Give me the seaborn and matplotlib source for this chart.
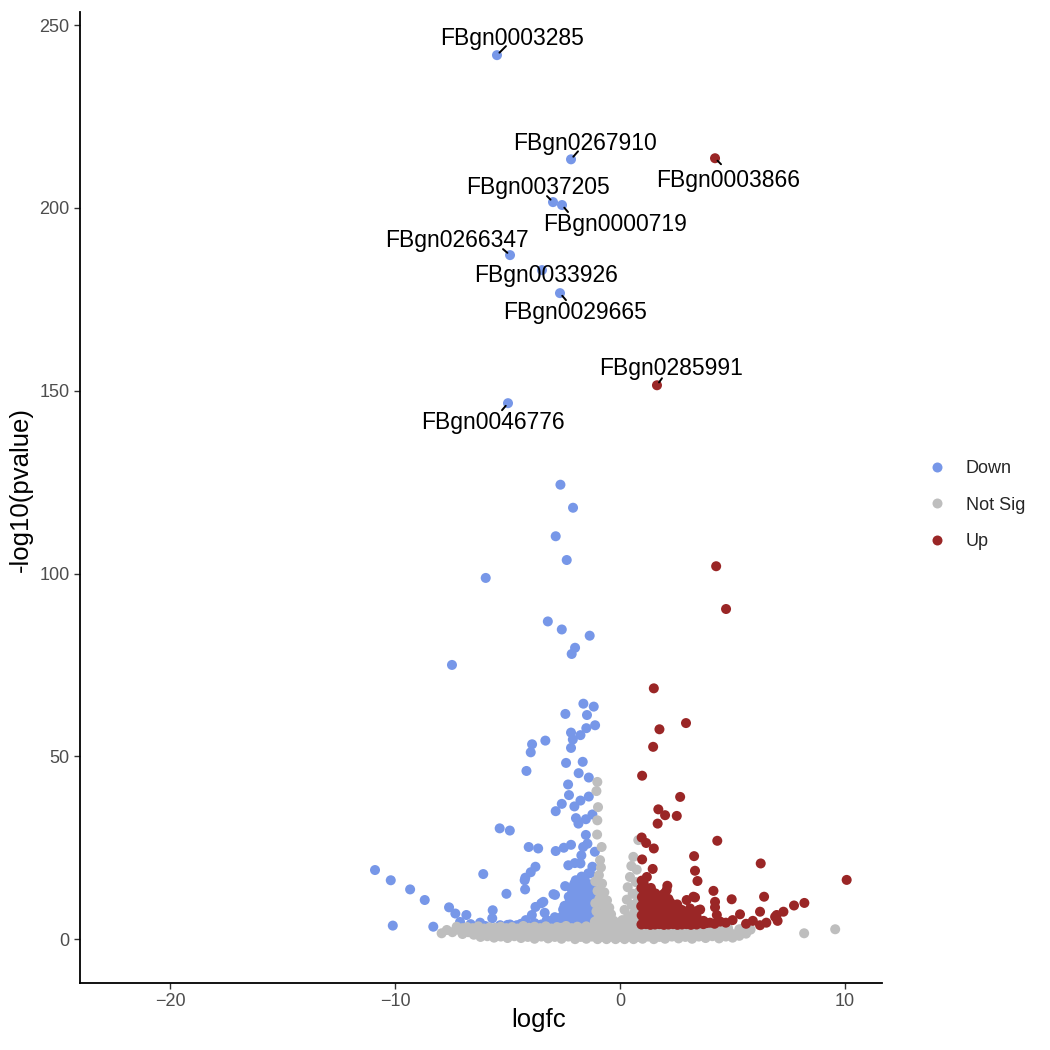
import pandas as pd
import seaborn as sns
import matplotlib.pyplot as plt
from matplotlib.lines import Line2D

# (logfc, -log10 pvalue), one list per group
down_pts = [
    (-2.65, 124.3), (-2.09, 118.0), (-2.86, 110.2), (-2.37, 103.7), (-5.97, 98.8),
    (-3.21, 86.9), (-2.59, 84.7), (-1.35, 83.0), (-2.00, 79.7), (-2.15, 78.0), (-7.47, 75.0),
    (-1.63, 64.4), (-1.17, 63.6), (-2.43, 61.6), (-1.47, 61.3), (-1.11, 58.5), (-1.50, 57.7),
    (-2.18, 56.5), (-1.76, 55.8), (-2.10, 54.6), (-3.32, 54.3), (-3.91, 53.3), (-3.97, 51.1),
    (-2.18, 52.3), (-2.40, 48.2), (-1.66, 48.5), (-4.16, 46.0), (-1.84, 45.4), (-1.39, 44.2),
    (-2.31, 42.3), (-2.27, 39.4), (-1.39, 39.0), (-2.59, 37.0), (-1.76, 37.9), (-2.03, 36.3),
    (-2.86, 35.0), (-1.23, 34.1), (-1.96, 33.1), (-1.52, 32.8), (-1.85, 31.6), (-5.35, 30.3),
    (-4.90, 29.7), (-1.52, 28.5), (-4.06, 25.2), (-3.64, 24.8), (-2.86, 24.1), (-2.50, 25.0),
    (-2.18, 25.8), (-1.64, 25.2), (-1.45, 26.1), (-1.12, 23.9), (-1.72, 22.9), (-1.76, 20.7),
    (-2.30, 20.2), (-2.01, 20.8), (-3.76, 19.8), (-3.97, 18.3), (-4.21, 16.8), (-1.23, 19.8),
    (-1.41, 18.0), (-6.08, 17.8), (-10.89, 18.9), (-10.19, 16.1), (-9.33, 13.6), (-8.68, 10.7),
    (-5.05, 12.4), (-4.22, 13.6), (-2.89, 12.1), (-2.44, 14.5), (-2.03, 15.2), (-7.60, 8.7),
    (-7.32, 7.0), (-6.83, 6.6), (-7.11, 4.7), (-5.66, 7.9), (-5.68, 5.7), (-3.76, 8.8),
    (-3.50, 9.8), (-3.35, 7.2), (-3.92, 6.6), (-4.19, 5.2), (-2.53, 8.1), (-10.10, 3.7),
    (-8.30, 3.4), (-6.64, 4.1), (-6.22, 4.5), (-5.33, 3.8), (-4.59, 3.8), (-3.19, 4.6),
    (-4.89, 4.0), (-2.96, 12.3), (-4.24, 16.1), (-3.41, 10.2), (-3.26, 5.2), (-1.33, 18.0),
    (-6.00, 3.6), (-5.00, 3.9), (-4.40, 4.2), (-3.80, 4.4), (-3.50, 4.0), (-3.00, 4.8),
    (-2.90, 6.0), (-2.75, 5.5),
    (-2.62, 4.1), (-2.58, 6.2), (-2.46, 3.9), (-2.44, 6.6), (-2.47, 9.1),
    (-2.31, 4.2), (-2.29, 6.4), (-2.33, 9.4), (-2.28, 11.6),
    (-2.16, 3.9), (-2.14, 6.7), (-2.17, 8.9), (-2.12, 11.4), (-2.15, 13.6),
    (-2.01, 4.1), (-1.99, 6.1), (-2.02, 8.6), (-1.98, 11.1), (-2.00, 13.2), (-1.97, 16.1),
    (-1.86, 3.8), (-1.84, 6.0), (-1.87, 8.4), (-1.83, 10.6), (-1.85, 12.9), (-1.82, 15.0),
    (-1.71, 3.9), (-1.69, 6.1), (-1.72, 8.1), (-1.68, 10.4), (-1.70, 12.6), (-1.67, 14.6), (-1.71, 17.1),
    (-1.56, 3.8), (-1.54, 5.6), (-1.57, 7.6), (-1.53, 9.6), (-1.55, 11.5), (-1.52, 13.6), (-1.56, 16.0),
    (-1.41, 3.9), (-1.39, 5.5), (-1.42, 7.4), (-1.38, 9.5), (-1.40, 11.6), (-1.37, 14.1),
    (-1.26, 3.8), (-1.24, 5.6), (-1.27, 7.5), (-1.23, 9.4), (-1.25, 12.1), (-1.22, 15.1),
    (-1.11, 3.9), (-1.09, 5.4), (-1.12, 7.6), (-1.08, 10.1), (-1.10, 13.0),
    (-2.52, 5.0), (-2.38, 5.2), (-2.38, 7.8), (-2.22, 5.3), (-2.22, 7.8), (-2.23, 10.3),
    (-2.07, 5.1), (-2.08, 7.4), (-2.06, 9.8), (-2.07, 12.2), (-2.06, 14.6),
    (-1.92, 5.0), (-1.93, 7.2), (-1.91, 9.6), (-1.92, 11.9), (-1.90, 14.1),
    (-1.78, 4.9), (-1.77, 7.1), (-1.79, 9.4), (-1.76, 11.6), (-1.78, 13.8), (-1.76, 15.9),
    (-1.63, 4.8), (-1.62, 6.9), (-1.64, 9.0), (-1.61, 11.1), (-1.63, 13.3), (-1.62, 15.2),
    (-1.48, 4.7), (-1.47, 6.6), (-1.49, 8.6), (-1.46, 10.6), (-1.48, 12.6), (-1.47, 15.0),
    (-1.33, 4.6), (-1.32, 6.5), (-1.34, 8.4), (-1.31, 10.7), (-1.33, 13.0),
    (-1.18, 4.7), (-1.17, 6.6), (-1.19, 8.5), (-1.16, 11.2), (-1.05, 6.5), (-1.04, 8.8),
]

notsig_pts = [
    # spike left of zero
    (-1.01, 43.0), (-1.05, 40.5), (-0.98, 36.1), (-1.01, 32.5), (-1.02, 28.6), (-0.82, 25.2),
    (-0.89, 21.6), (-0.94, 17.5), (-0.85, 19.6), (-1.10, 15.8), (-0.80, 15.2), (-1.00, 13.2),
    (-0.70, 12.8), (-0.92, 11.0), (-0.58, 10.6), (-1.10, 9.8), (-0.78, 9.4), (-0.48, 8.6),
    (-1.05, 7.6), (-0.68, 7.4), (-0.40, 6.8), (-0.95, 6.0), (-0.58, 5.8), (-0.28, 5.0),
    (-1.12, 4.8), (-0.82, 4.6), (-0.48, 4.2), (-0.16, 4.1),
    # spike right of zero
    (0.81, 27.1), (0.59, 22.5), (0.50, 20.0), (0.74, 19.0), (0.44, 17.0), (0.70, 15.6),
    (0.34, 14.2), (0.84, 13.0), (0.56, 12.4), (0.30, 10.8), (0.80, 10.6), (0.52, 9.4),
    (0.20, 8.0), (0.88, 8.2), (0.62, 7.2), (0.36, 6.2), (0.10, 5.2), (0.80, 5.6),
    (0.50, 4.6), (0.02, 4.0), (0.26, 4.2), (0.70, 3.9),
    # low band
    (-6.2, 0.6), (-5.6, 0.4), (-5.0, 0.3), (-4.4, 0.3), (-3.8, 0.1), (-3.2, 0.2), (-2.6, 0.1),
    (-2.0, 0.0), (-1.5, 0.1), (-1.0, 0.0), (-0.6, 0.0), (-0.2, 0.0), (0.2, 0.0), (0.6, 0.0),
    (1.0, 0.1), (1.5, 0.0), (2.0, 0.1), (2.6, 0.2), (3.2, 0.1), (3.8, 0.3), (4.4, 0.2), (5.0, 0.4),
    (-5.9, 0.8), (-5.3, 0.7), (-4.7, 0.8), (-4.1, 0.6), (-3.5, 0.7), (-2.9, 0.6), (-2.3, 0.7),
    (-1.75, 0.6), (-1.25, 0.7), (-0.8, 0.6), (-0.4, 0.7), (0.0, 0.6), (0.4, 0.7), (0.8, 0.6),
    (1.25, 0.7), (1.75, 0.6), (2.3, 0.7), (2.9, 0.6), (3.5, 0.7), (4.1, 0.8), (4.7, 0.7), (5.3, 0.9),
    (-7.93, 1.6), (-7.0, 1.4), (-6.5, 1.2), (-6.0, 1.3), (-5.5, 1.1), (-5.0, 1.4), (-4.5, 1.2),
    (-4.0, 1.3), (-3.5, 1.1), (-3.0, 1.4), (-2.5, 1.2), (-2.0, 1.3), (-1.6, 1.1), (-1.2, 1.4),
    (-0.8, 1.2), (-0.4, 1.3), (0.0, 1.1), (0.4, 1.4), (0.8, 1.2), (1.2, 1.3), (1.6, 1.1),
    (2.1, 1.4), (2.6, 1.2), (3.1, 1.3), (3.6, 1.1), (4.1, 1.4), (4.6, 1.2), (5.1, 1.3), (5.6, 1.5),
    (-7.45, 1.9), (-6.75, 1.9), (-6.25, 2.0), (-5.75, 1.8), (-5.25, 1.9), (-4.75, 2.0), (-4.25, 1.8),
    (-3.75, 1.9), (-3.25, 2.0), (-2.75, 1.8), (-2.25, 1.9), (-1.8, 2.0), (-1.4, 1.8), (-1.0, 1.9),
    (-0.6, 2.0), (-0.2, 1.8), (0.2, 1.9), (0.6, 2.0), (1.0, 1.8), (1.4, 1.9), (1.85, 2.0),
    (2.35, 1.8), (2.85, 1.9), (3.35, 2.0), (3.85, 1.8), (4.35, 1.9), (4.85, 2.0), (5.35, 1.9),
    (-7.70, 2.5), (-7.2, 2.6), (-6.7, 2.4), (-6.2, 2.5), (-5.7, 2.7), (-5.2, 2.4), (-4.7, 2.6),
    (-4.2, 2.5), (-3.7, 2.7), (-3.2, 2.4), (-2.7, 2.6), (-2.2, 2.5), (-1.8, 2.7), (-1.4, 2.4),
    (-1.0, 2.6), (-0.6, 2.5), (-0.2, 2.7), (0.2, 2.4), (0.6, 2.6), (1.0, 2.5), (1.4, 2.7),
    (1.8, 2.4), (2.3, 2.6), (2.8, 2.5), (3.3, 2.7), (3.8, 2.4), (4.3, 2.6), (4.8, 2.5),
    (5.3, 2.7), (5.8, 2.6),
    (-7.0, 3.0), (-6.55, 3.0), (-6.05, 2.9), (-5.55, 3.1), (-5.05, 3.0), (-4.55, 2.9), (-4.05, 3.1),
    (-3.55, 3.0), (-3.05, 2.9), (-2.6, 3.1), (-2.15, 3.0), (-1.7, 2.9), (-1.3, 3.1), (-0.9, 3.0),
    (-0.5, 2.9), (-0.1, 3.1), (0.3, 3.0), (0.7, 2.9), (1.1, 3.1), (1.55, 3.0), (2.05, 2.9),
    (2.55, 3.1), (3.05, 3.0), (3.6, 2.9), (4.2, 3.1), (4.8, 3.0), (5.5, 3.1),
    (-7.26, 3.4), (-6.8, 3.3), (-6.3, 3.5), (-5.8, 3.2), (-5.3, 3.4), (-4.8, 3.3), (-4.3, 3.6),
    (-3.8, 3.4), (-3.3, 3.5), (-2.8, 3.3), (-2.4, 3.6), (-1.9, 3.4), (-1.5, 3.5), (-1.1, 3.3),
    (-0.7, 3.6), (-0.3, 3.4), (0.1, 3.5), (0.5, 3.3), (0.9, 3.6), (1.3, 3.4), (1.8, 3.5),
    (2.3, 3.3), (2.8, 3.6), (3.3, 3.4), (3.9, 3.5), (4.5, 3.3),
    (-0.35, 4.5), (0.15, 4.6), (-0.05, 3.9),
    (8.18, 1.6), (9.56, 2.7),
]

up_pts = [
    (4.27, 102.0), (4.71, 90.3), (1.50, 68.6), (2.93, 59.1), (1.75, 57.4), (1.47, 52.6),
    (0.98, 44.7), (2.67, 38.9), (1.70, 35.5), (2.00, 33.9), (2.52, 33.7), (1.67, 31.6),
    (0.96, 27.8), (1.16, 26.3), (4.32, 26.9), (1.50, 24.8), (3.29, 22.7), (0.98, 21.8),
    (6.25, 20.7), (3.33, 18.7), (1.45, 19.2), (1.19, 17.0), (3.44, 15.9), (10.07, 16.2),
    (2.10, 14.6), (4.15, 13.2), (4.96, 10.9), (6.40, 11.6), (4.22, 10.2), (3.33, 11.4),
    (3.56, 8.1), (5.33, 6.8), (6.22, 7.5), (4.22, 8.7), (4.30, 6.6), (6.89, 6.1),
    (7.26, 7.5), (7.73, 9.2), (8.19, 9.9), (6.96, 6.6), (6.22, 3.8), (3.26, 11.6),
    (3.48, 7.9), (4.70, 4.5), (5.60, 4.2), (6.50, 4.5), (7.00, 5.0), (2.07, 13.4),
    (2.96, 10.7), (3.11, 8.4), (2.36, 8.8), (5.00, 5.2), (5.90, 5.0),
    (0.95, 4.0), (0.96, 6.5), (0.94, 9.0), (0.97, 11.5), (0.95, 14.0), (0.96, 16.0),
    (1.15, 4.1), (1.14, 6.0), (1.16, 8.5), (1.15, 11.0), (1.13, 13.0),
    (1.35, 3.9), (1.36, 6.5), (1.34, 9.0), (1.35, 11.5), (1.37, 14.0),
    (1.55, 4.0), (1.56, 6.0), (1.54, 8.5), (1.55, 10.5), (1.57, 12.5),
    (1.75, 4.1), (1.74, 6.5), (1.76, 9.0), (1.75, 11.0),
    (1.95, 3.9), (1.96, 6.0), (1.94, 8.5), (1.95, 10.5), (1.97, 12.5),
    (2.15, 4.0), (2.16, 6.5), (2.14, 9.0), (2.15, 11.0),
    (2.35, 4.1), (2.36, 6.0), (2.34, 8.5),
    (2.55, 3.9), (2.56, 6.5), (2.54, 9.5),
    (2.75, 4.0), (2.76, 6.0), (2.74, 8.0),
    (2.95, 4.1), (2.96, 6.5),
    (3.15, 3.9), (3.16, 5.5), (3.14, 7.5),
    (3.40, 4.0), (3.41, 6.0), (3.70, 4.1), (3.71, 5.0), (4.00, 4.5),
    (1.05, 5.2), (1.05, 7.7), (1.04, 10.2), (1.06, 12.8), (1.05, 15.2),
    (1.25, 5.0), (1.25, 7.3), (1.26, 9.8), (1.24, 12.2), (1.45, 5.1), (1.45, 7.7),
    (1.46, 10.2), (1.44, 12.8), (1.65, 5.0), (1.66, 7.3), (1.64, 9.7), (1.65, 11.9),
    (1.85, 5.2), (1.86, 7.7), (1.84, 9.8), (1.86, 12.0), (2.05, 5.0), (2.06, 7.3),
    (2.04, 9.8), (2.25, 5.2), (2.26, 7.7), (2.24, 10.0), (2.45, 5.1), (2.46, 7.4),
    (2.65, 5.0), (2.66, 7.2), (2.85, 5.2), (2.86, 7.3), (3.05, 5.0), (3.30, 5.0),
    (3.55, 4.6), (3.85, 4.4), (4.20, 4.2), (4.45, 4.8),
]

# labelled genes
lab_genes = ["FBgn0003285", "FBgn0267910", "FBgn0003866", "FBgn0037205", "FBgn0000719",
             "FBgn0266347", "FBgn0033926", "FBgn0029665", "FBgn0285991", "FBgn0046776"]
lab_fc = [-5.47, -2.18, 4.22, -2.98, -2.58, -4.89, -3.47, -2.67, 1.64, -4.98]
lab_p = [241.8, 213.3, 213.6, 201.6, 200.8, 187.1, 183.0, 176.7, 151.5, 146.6]
lab_sig = ["Down", "Down", "Up", "Down", "Down", "Down", "Down", "Down", "Up", "Down"]

# label offsets in pixels (right, up) from the point, and leader segment end
lab_dx = [15, 14, 13, -15, 53, -53, 4, 15, 14, -15]
lab_dy = [17, 16, -22, 15, -19, 15, -5, -19, 17, -19]
seg_dx = [9, 7, 6, -6, 6, -7, 0, 6, 5, -6]
seg_dy = [9, 8, -6, 6, -7, 6, 0, -7, 7, -7]

groups = ["Down", "Not Sig", "Up"]
colors = ["#7797E8", "#BEBEBE", "#9A2626"]


def to_frame(pts, sig):
    return pd.DataFrame({"logfc": [p[0] for p in pts],
                         "pval": [p[1] for p in pts],
                         "sig": sig})


df = pd.concat([
    to_frame(down_pts, "Down"),
    to_frame(notsig_pts, "Not Sig"),
    to_frame(up_pts, "Up"),
    pd.DataFrame({"logfc": lab_fc, "pval": lab_p, "sig": lab_sig}),
], ignore_index=True)

sns.set_style("ticks")
plt.rcParams["font.family"] = ["Liberation Sans", "DejaVu Sans"]

fig = plt.figure(figsize=(10.5, 10.5), dpi=100)
ax = fig.add_axes([80 / 1050, 1 - 983 / 1050, 802 / 1050, 971 / 1050])

sns.scatterplot(data=df, x="logfc", y="pval", hue="sig", hue_order=groups,
                palette=colors, s=52, linewidth=0, alpha=1, legend=False, ax=ax)

for g, fc, p, dx, dy, sx, sy in zip(lab_genes, lab_fc, lab_p, lab_dx, lab_dy, seg_dx, seg_dy):
    if sx or sy:
        ax.annotate("", xy=(fc, p), xytext=(sx * 0.72, sy * 0.72),
                    textcoords="offset points",
                    arrowprops=dict(arrowstyle="-", color="black", lw=1.4,
                                    shrinkA=0, shrinkB=2.5), zorder=4)
    ax.annotate(g, xy=(fc, p), xytext=(dx * 0.72, dy * 0.72),
                textcoords="offset points", ha="center", va="center",
                fontsize=16.5, color="black", zorder=5)

ax.set_xlim(-24.0, 11.64)
ax.set_ylim(-12.0, 253.6)
ax.set_xticks([-20, -10, 0, 10])
ax.set_yticks([0, 50, 100, 150, 200, 250])

sns.despine(ax=ax)
for side in ["left", "bottom"]:
    ax.spines[side].set_linewidth(1.3)
    ax.spines[side].set_color("black")
ax.tick_params(length=4.5, width=1.0, color="#333333", labelcolor="#4D4D4D",
               labelsize=13, pad=3)

ax.set_xlabel("logfc", fontsize=18.5, color="black")
ax.set_ylabel("-log10(pvalue)", fontsize=18.5, color="black")
ax.xaxis.set_label_coords((539 - 80) / 802, -(1008 - 983) / 971)
ax.yaxis.set_label_coords(-(80 - 33) / 802, (983 - 490) / 971)

handles = [Line2D([0], [0], marker="o", linestyle="", markersize=7.2,
                  markerfacecolor=c, markeredgewidth=0) for c in colors]
fig.legend(handles, groups, loc="center left", bbox_to_anchor=(928 / 1050, 1 - 505 / 1050),
           frameon=False, fontsize=13, handlelength=1.0, handletextpad=1.1,
           labelspacing=1.08, borderpad=0, borderaxespad=0)

fig.savefig("out.png", dpi=100)
